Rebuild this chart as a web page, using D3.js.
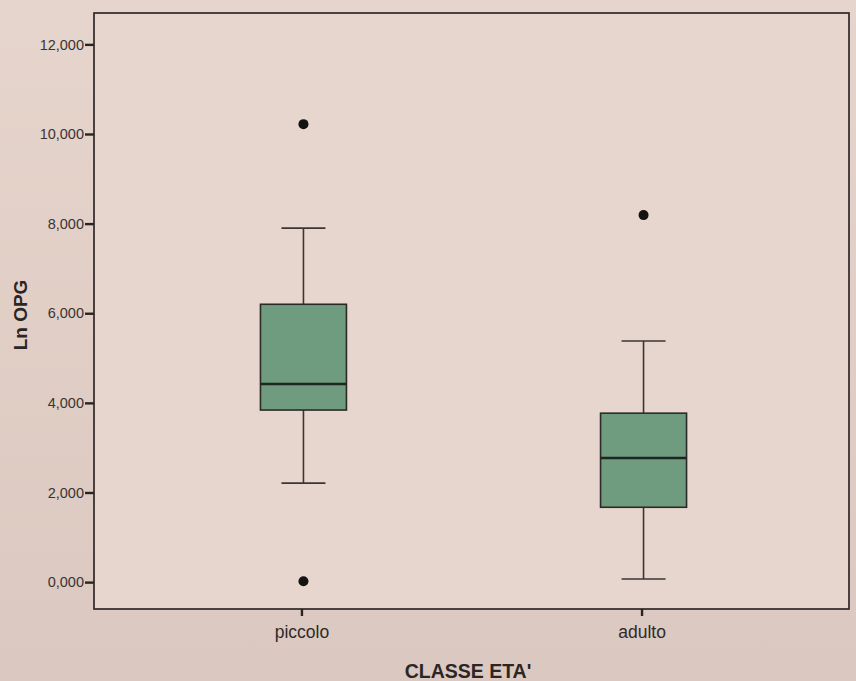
<!DOCTYPE html>
<html>
<head>
<meta charset="utf-8">
<script src="https://cdn.jsdelivr.net/npm/d3@7"></script>
<style>
  html, body { margin: 0; padding: 0; background: #e3d2c9; }
  svg { display: block; font-family: "Liberation Sans", Arial, sans-serif; }
</style>
</head>
<body>
<svg id="chart" width="856" height="681"></svg>
<script>
// Age classes and their box-plot summaries of Ln OPG
const categories = ["piccolo", "adulto"];
const q1 =        [3.84, 1.67];
const median =    [4.42, 2.77];
const q3 =        [6.20, 3.77];
const whiskerLo = [2.21, 0.07];
const whiskerHi = [7.90, 5.38];
const outliers =  [[10.22, 0.02], [8.19]];
const yTicks = [0, 2, 4, 6, 8, 10, 12];

const svg = d3.select("#chart");
const W = 856, H = 681;
const frame = { left: 94, right: 849, top: 13, bottom: 609 };

// Background: paper tone
const bg = svg.append("defs").append("linearGradient")
  .attr("id", "paper").attr("x1", 0).attr("y1", 0).attr("x2", 0).attr("y2", 1);
bg.append("stop").attr("offset", "0%").attr("stop-color", "#e6d5cc");
bg.append("stop").attr("offset", "100%").attr("stop-color", "#dbc8c0");
svg.append("rect").attr("width", W).attr("height", H).attr("fill", "url(#paper)");

const x = d3.scalePoint()
  .domain(categories)
  .range([frame.left, frame.right])
  .padding(0.61);

const y = d3.scaleLinear()
  .domain([-0.6, 12.7])
  .range([frame.bottom, frame.top]);

// Plot frame
svg.append("rect")
  .attr("x", frame.left).attr("y", frame.top)
  .attr("width", frame.right - frame.left)
  .attr("height", frame.bottom - frame.top)
  .attr("fill", "#e6d6cd")
  .attr("stroke", "#2f2826").attr("stroke-width", 1.7);

// Y axis (decimal comma, three decimals)
const yAxis = d3.axisLeft(y)
  .tickValues(yTicks)
  .tickFormat(d => d3.format(".3f")(d).replace(".", ","))
  .tickSize(9).tickPadding(1);
const gy = svg.append("g")
  .attr("transform", `translate(${frame.left},0)`)
  .call(yAxis);
gy.select(".domain").remove();
gy.selectAll(".tick line").attr("stroke", "#2a2422").attr("stroke-width", 2.4);
gy.selectAll(".tick text")
  .attr("fill", "#3a3432").attr("font-size", 14.5);

// X axis
const xAxis = d3.axisBottom(x).tickSize(7).tickPadding(10);
const gx = svg.append("g")
  .attr("transform", `translate(0,${frame.bottom})`)
  .call(xAxis);
gx.select(".domain").remove();
gx.selectAll(".tick line").attr("stroke", "#2a2422").attr("stroke-width", 2.4);
gx.selectAll(".tick text").attr("fill", "#2f2a28").attr("font-size", 17.5);

// Axis titles
svg.append("text")
  .attr("transform", `translate(27,315) rotate(-90)`)
  .attr("text-anchor", "middle")
  .attr("font-weight", "bold").attr("font-size", 19)
  .attr("fill", "#2b2624")
  .text("Ln OPG");
svg.append("text")
  .attr("x", 468).attr("y", 678)
  .attr("text-anchor", "middle")
  .attr("font-weight", "bold").attr("font-size", 19.5)
  .attr("fill", "#2b2624")
  .text("CLASSE ETA'");

// Boxes
const boxW = 86, capW = 44;
const data = categories.map((c, i) => ({
  c, q1: q1[i], med: median[i], q3: q3[i],
  lo: whiskerLo[i], hi: whiskerHi[i], out: outliers[i]
}));

const g = svg.append("g").selectAll("g").data(data).join("g")
  .attr("transform", d => `translate(${x(d.c) + 2},0)`);

const ink = "#3b3634";
// whiskers
g.append("line").attr("x1", 0).attr("x2", 0)
  .attr("y1", d => y(d.hi)).attr("y2", d => y(d.q3))
  .attr("stroke", ink).attr("stroke-width", 1.6);
g.append("line").attr("x1", 0).attr("x2", 0)
  .attr("y1", d => y(d.q1)).attr("y2", d => y(d.lo))
  .attr("stroke", ink).attr("stroke-width", 1.6);
// caps
g.append("line").attr("x1", -capW / 2).attr("x2", capW / 2)
  .attr("y1", d => y(d.hi)).attr("y2", d => y(d.hi))
  .attr("stroke", ink).attr("stroke-width", 1.6);
g.append("line").attr("x1", -capW / 2).attr("x2", capW / 2)
  .attr("y1", d => y(d.lo)).attr("y2", d => y(d.lo))
  .attr("stroke", ink).attr("stroke-width", 1.6);
// box
g.append("rect")
  .attr("x", -boxW / 2).attr("width", boxW)
  .attr("y", d => y(d.q3)).attr("height", d => y(d.q1) - y(d.q3))
  .attr("fill", "#6f9b7f").attr("stroke", "#2c2a28").attr("stroke-width", 1.6);
// median
g.append("line").attr("x1", -boxW / 2).attr("x2", boxW / 2)
  .attr("y1", d => y(d.med)).attr("y2", d => y(d.med))
  .attr("stroke", "#1f2622").attr("stroke-width", 2.6);
// outliers
g.selectAll("circle").data(d => d.out).join("circle")
  .attr("cx", 0).attr("cy", v => y(v)).attr("r", 5)
  .attr("fill", "#151212");
</script>
</body>
</html>
